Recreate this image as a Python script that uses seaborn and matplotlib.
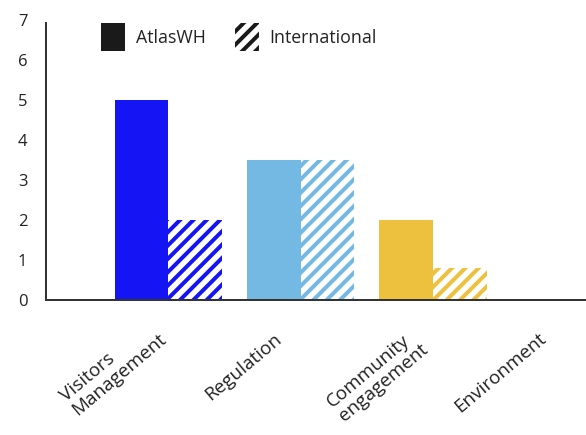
import matplotlib
matplotlib.use("Agg")
import matplotlib.pyplot as plt
import matplotlib.transforms as mtransforms
from matplotlib.patches import Patch
import seaborn as sns
import pandas as pd

categories = ["Visitors\nManagement", "Regulation", "Community\nengagement", "Environment"]
atlas_values = [5, 3.5, 2, 0]
intl_values = [2, 3.5, 0.8, 0]
series_names = ["AtlasWH", "International"]
category_colors = ["#1414F5", "#74B8E4", "#EDC03E", "#5FB86A"]
y_ticks = [0, 1, 2, 3, 4, 5, 6, 7]

sns.set_style("white")
plt.rcParams["font.family"] = ["Open Sans", "DejaVu Sans"]
plt.rcParams["hatch.linewidth"] = 3.6

df = pd.DataFrame({
    "category": categories * 2,
    "value": atlas_values + intl_values,
    "series": [series_names[0]] * len(categories) + [series_names[1]] * len(categories),
})

DPI = 80
fig = plt.figure(figsize=(586 / DPI, 435 / DPI), dpi=DPI)
ax = fig.add_axes([46 / 586, (435 - 300) / 435, 1 - 46 / 586 + 0.01, (300 - 20) / 435])

sns.barplot(data=df, x="category", y="value", hue="series", order=categories,
            hue_order=series_names, width=0.81, dodge=True, legend=False, ax=ax,
            saturation=1)

n = len(categories)
for i, bar in enumerate(ax.patches[: 2 * n]):
    cat_idx = i % n
    col = category_colors[cat_idx]
    bar.set_linewidth(0)
    bar.set_edgecolor(col)
    if i < n:
        bar.set_facecolor(col)
    else:
        bar.set_facecolor("white")
        bar.set_hatch("//")

ax.set_xlim(-0.923, 3.2)
ax.set_ylim(0, 7)
ax.set_yticks(y_ticks)
ax.set_xlabel("")
ax.set_ylabel("")

for s in ["top", "right"]:
    ax.spines[s].set_visible(False)
for s in ["left", "bottom"]:
    ax.spines[s].set_color("#333333")
    ax.spines[s].set_linewidth(1.8)
    ax.spines[s].set_zorder(5)
ax.spines["left"].set_bounds(0, 6.93)

ax.tick_params(axis="y", direction="in", length=11, width=1.8, color="#333333",
               labelsize=15, labelcolor="#222222", pad=0)
ax.tick_params(axis="x", length=0, labelsize=17, labelcolor="#222222", pad=0)
ticks = ax.yaxis.get_major_ticks()
ticks[-1].tick1line.set_visible(False)
ticks[0].tick1line.set_visible(False)
offset_y = mtransforms.ScaledTranslation(-28 / DPI, 0, fig.dpi_scale_trans)
for lab in ax.get_yticklabels():
    lab.set_horizontalalignment("left")
    lab.set_transform(lab.get_transform() + offset_y)

label_dx = [-22, -27, -25, -27]
label_dy = [16, 30, 26, 29]
for lab, dx, dy in zip(ax.get_xticklabels(), label_dx, label_dy):
    lab.set_rotation(40)
    lab.set_horizontalalignment("right")
    lab.set_verticalalignment("top")
    lab.set_rotation_mode("anchor")
    lab.set_multialignment("left")
    lab.set_linespacing(1.05)
    lab.set_transform(lab.get_transform()
                      + mtransforms.ScaledTranslation(dx / DPI, -dy / DPI, fig.dpi_scale_trans))

handles = [
    Patch(facecolor="#1a1a1a", edgecolor="#1a1a1a", linewidth=0, label=series_names[0]),
    Patch(facecolor="white", edgecolor="#1a1a1a", hatch="//", linewidth=0, label=series_names[1]),
]
fig.legend(handles=handles, loc="upper left", bbox_to_anchor=(85 / 586, 1 - 7 / 435),
           ncol=2, frameon=False, fontsize=16, handlelength=1.35, handleheight=2.05,
           handletextpad=0.6, columnspacing=1.65, borderpad=0.4, labelcolor="#222222")

fig.savefig("out.png", dpi=DPI)
